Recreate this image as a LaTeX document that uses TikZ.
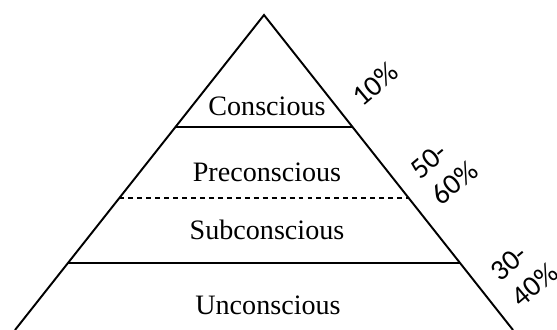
\documentclass[tikz,border=0pt]{standalone}
\usepackage{fontspec}
\setmainfont{Liberation Serif}
\newfontfamily\pctfont{Carlito}
\usetikzlibrary{calc}

\begin{document}
\begin{tikzpicture}[x=0.02cm,y=-0.02cm]
  \tikzset{
    level/.style={font=\fontsize{16}{19}\selectfont, anchor=base},
    share/.style={font=\pctfont\fontsize{16.5}{19}\selectfont, rotate=40, align=left, inner sep=0pt},
    edge/.style={line width=1.1pt}
  }
  \useasboundingbox (0,0) rectangle (557,330);

  \coordinate (A) at (264,15);  % apex
  \coordinate (L) at (15,330);  % left foot
  \coordinate (R) at (513,330); % right foot

  % Pyramid
  \draw[edge] (L) -- (A) -- (R);

  % Layer borders
  \draw[line width=1pt] ($(A)!0.3556!(L)$) -- ($(A)!0.3556!(R)$);
  \draw[line width=0.6pt, dash pattern=on 2.8pt off 2.3pt] ($(A)!0.581!(L)$) -- ($(A)!0.581!(R)$);
  \draw[line width=1pt] ($(A)!0.787!(L)$) -- ($(A)!0.787!(R)$);

  % Levels
  \node[level] (conscious) at (267,116) {Conscious};
  \node[level] (preconscious) at (267,182) {Preconscious};
  \node[level] (subconscious) at (267,240) {Subconscious};
  \node[level] (unconscious) at (268,315) {Unconscious};

  % Shares
  \node[share] (top) at (375,84) {10\%};
  \node[share] (middle) at (444,170) {50-\\60\%};
  \node[share] (bottom) at (524,272) {30-\\40\%};
\end{tikzpicture}
\end{document}
